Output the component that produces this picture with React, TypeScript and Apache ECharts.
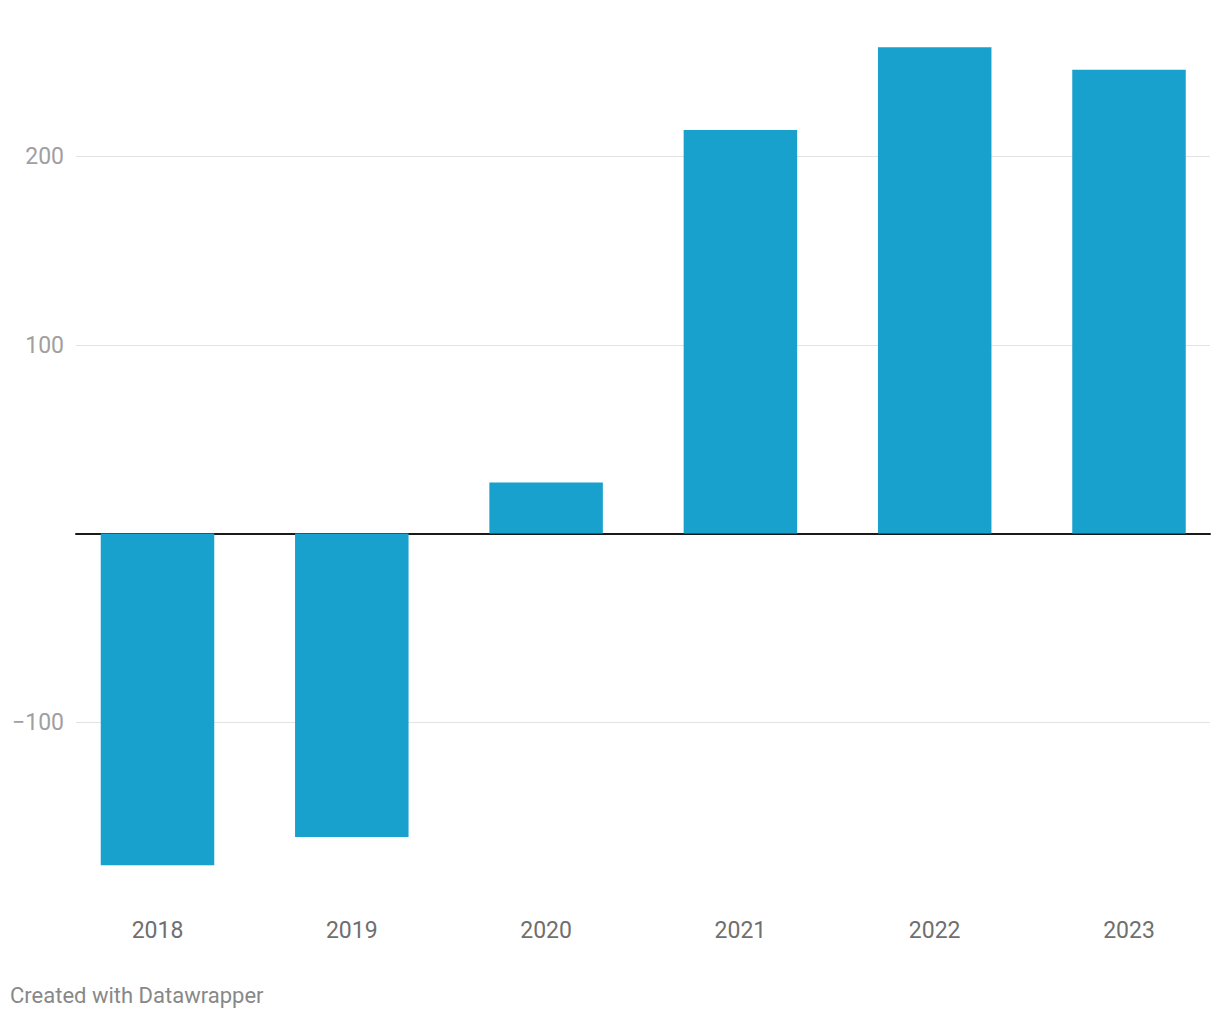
import React, { useEffect, useRef } from "react";
import * as echarts from "echarts";

const years = ["2018", "2019", "2020", "2021", "2022", "2023"];
const values = [-176, -161, 27, 214, 258, 246];
const tickValues = [-100, 100, 200];

export default function App() {
  const ref = useRef<HTMLDivElement>(null);
  useEffect(() => {
    const chart = echarts.init(ref.current!, null, { renderer: "svg" });
    const font = "Roboto, 'Noto Sans', sans-serif";
    chart.setOption({
      animation: false,
      backgroundColor: "#ffffff",
      grid: [
        { left: 157.5, width: 971.5, top: 43.4, height: 867.1, containLabel: false },
        { left: 76, width: 1134, top: 156.5, height: 565.5, containLabel: false },
      ],
      xAxis: [
        {
          type: "category",
          gridIndex: 0,
          data: years,
          boundaryGap: false,
          axisLine: { show: false },
          axisTick: { show: false },
          axisLabel: { color: "#6f6f6f", fontSize: 23, fontFamily: font, margin: 8 },
        },
        {
          type: "value",
          gridIndex: 1,
          min: 0,
          max: 1,
          axisLine: { show: true, onZero: true, lineStyle: { color: "#1a1a1a", width: 2 } },
          axisTick: { show: false },
          axisLabel: { show: false },
          splitLine: { show: false },
        },
      ],
      yAxis: [
        {
          type: "value",
          gridIndex: 0,
          min: -200,
          max: 260,
          show: false,
          splitLine: { show: false },
        },
        {
          type: "value",
          gridIndex: 1,
          min: -100,
          max: 200,
          interval: 100,
          axisLine: { show: false },
          axisTick: { show: false },
          axisLabel: {
            color: "#a0a0a0",
            fontSize: 23,
            fontFamily: font,
            margin: 12,
            formatter: (v: number) =>
              tickValues.includes(v) ? (v < 0 ? "\u2212" + Math.abs(v) : String(v)) : "",
          },
          splitLine: { show: true, lineStyle: { color: "#e3e3e3", width: 1 } },
        },
      ],
      series: [
        {
          type: "bar",
          xAxisIndex: 0,
          yAxisIndex: 0,
          data: values,
          barWidth: 113.5,
          clip: false,
          itemStyle: { color: "#18a1cd" },
          z: 1,
        },
      ],
      graphic: [
        {
          type: "text",
          left: 10,
          top: 984,
          style: {
            text: "Created with Datawrapper",
            fill: "#888888",
            fontSize: 22,
            fontFamily: font,
          },
        },
      ],
    });
    return () => chart.dispose();
  }, []);
  return (
    <div
      ref={ref}
      style={{ position: "fixed", left: 0, top: 0, width: 1220, height: 1020, background: "#fff" }}
    />
  );
}
